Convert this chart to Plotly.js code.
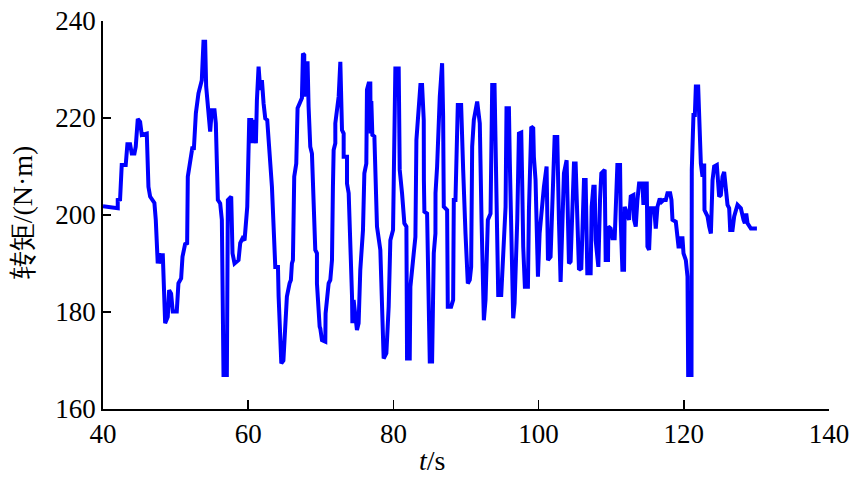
<!DOCTYPE html>
<html>
<head>
<meta charset="utf-8">
<script src="https://cdn.plot.ly/plotly-3.0.1.min.js"></script>
<style>html,body{margin:0;padding:0;background:#fff;}#chart{width:850px;height:479px;}</style>
</head>
<body>
<div id="chart"></div>
<script>
// time (s) and torque (N·m), in four segments
const timeA = [40.0, 42.03, 42.03, 42.35, 42.58, 43.13, 43.36, 43.73, 43.96, 44.33,
  44.51, 44.79, 45.11, 45.34, 46.03, 46.26, 46.49, 47.08, 47.27, 47.41,
  47.54, 47.73, 47.96, 48.23, 48.37, 48.56, 48.92, 49.11, 49.38, 49.61,
  50.16, 50.39, 50.76, 50.95, 51.31, 51.59, 51.68, 52.0, 52.33, 52.51,
  52.79, 53.15, 53.61, 53.84, 54.07, 54.21, 54.53, 54.76, 54.99, 55.36,
  55.54, 55.82, 56.14, 56.37, 56.6, 57.06, 57.2, 57.66, 57.84, 58.12,
  58.67, 58.9, 59.22, 59.5, 59.87, 60.14, 60.42, 60.51, 60.74, 61.06,
  61.2, 61.43, 61.66, 61.89, 62.12, 62.35, 62.62, 62.81, 63.27, 63.73,
  64.1, 64.19, 64.56, 64.85];
const torqueA = [201.8, 201.4, 203.1, 203.2, 210.3, 210.3, 214.6, 214.6, 212.7, 212.7,
  214.1, 219.8, 219.2, 216.5, 216.8, 205.8, 203.8, 202.5, 199.0, 192.1,
  190.0, 192.1, 190.0, 192.1, 183.8, 177.7, 179.0, 184.5, 183.8, 180.1,
  180.1, 185.9, 186.9, 191.4, 194.0, 194.2, 207.9, 210.6, 214.1, 213.4,
  221.0, 225.1, 227.8, 235.7, 235.7, 226.5, 219.6, 217.2, 221.6, 221.6,
  218.9, 203.1, 202.4, 199.0, 167.0, 167.0, 203.1, 203.8, 192.1, 190.0,
  190.7, 194.2, 195.2, 194.8, 201.7, 219.6, 219.6, 214.8, 219.6, 214.8,
  223.7, 230.6, 225.8, 227.8, 223.0, 219.9, 219.6, 216.2, 205.8, 189.3,
  189.3, 183.2, 169.4, 170.0];

const timeB = [65.1, 65.33, 65.7, 65.88, 66.02, 66.16, 66.34, 66.62, 66.71, 66.8,
  67.4, 67.54, 67.72, 67.72, 68.0, 68.18, 68.32, 68.55, 68.78, 69.01,
  69.24, 69.47, 69.47, 69.84, 69.93, 70.16, 70.62, 70.66, 70.85, 71.08,
  71.31, 71.54, 71.67, 71.77, 72.0, 72.0, 72.46, 72.69, 72.92, 73.15,
  73.15, 73.61, 73.61, 73.84, 74.3, 74.35, 74.52, 74.75, 74.98, 75.21,
  75.44, 75.81, 76.0, 76.27, 76.36, 76.59, 76.82, 76.87, 76.96, 77.1,
  77.38, 77.74, 78.2, 78.66, 79.03, 79.35, 79.58, 79.95, 80.27, 80.73,
  80.87, 81.19, 81.51, 81.79, 81.88, 82.25, 82.34, 82.8, 83.03, 83.17,
  83.72, 83.95, 84.18, 84.2, 84.27, 84.64, 84.87, 85.01, 85.33, 85.56,
  85.79, 85.8, 86.02, 86.39, 86.71, 86.85, 86.94, 87.4, 87.49, 87.95,
  88.23, 88.32, 88.55, 88.69, 88.87, 89.33, 89.47, 89.61, 89.93, 90.25,
  90.52, 90.71, 90.85, 91.08, 91.54, 91.9];
const torqueB = [176.3, 183.2, 185.9, 186.6, 190.0, 190.7, 207.9, 210.6, 216.2, 222.0,
  224.1, 233.3, 233.0, 224.4, 231.3, 231.3, 222.3, 214.1, 212.7, 200.3,
  192.8, 192.1, 185.9, 177.0, 176.6, 174.2, 173.9, 179.7, 182.5, 185.9,
  186.6, 190.7, 205.8, 213.4, 214.8, 218.9, 224.4, 231.6, 217.5, 216.8,
  212.0, 212.0, 206.5, 204.5, 183.2, 177.7, 182.5, 178.3, 176.3, 177.7,
  188.7, 196.9, 208.6, 210.6, 225.8, 227.1, 227.1, 216.8, 223.5, 216.5,
  216.2, 197.6, 192.8, 170.4, 171.5, 181.1, 194.8, 196.9, 230.2, 230.2,
  209.3, 204.5, 198.3, 197.6, 170.4, 170.4, 185.2, 192.1, 195.5, 215.5,
  226.8, 226.8, 219.6, 207.2, 200.7, 200.3, 185.2, 169.8, 169.8, 192.1,
  196.2, 204.5, 210.0, 224.4, 231.3, 220.3, 201.7, 201.0, 181.1, 181.1,
  182.5, 203.1, 203.1, 211.3, 222.7, 222.7, 211.3, 209.3, 196.2, 185.9,
  186.6, 189.3, 214.1, 219.6, 223.4, 218.9];

const timeC = [92.14, 92.46, 92.69, 92.83, 93.01, 93.38, 93.47, 93.61, 93.93, 94.07,
  94.3, 94.44, 94.85, 95.13, 95.45, 95.58, 95.91, 96.04, 96.23, 96.37,
  96.5, 96.69, 97.06, 97.29, 97.61, 97.75, 97.88, 98.11, 98.53, 98.67,
  98.99, 99.26, 99.35, 99.58, 99.81, 99.91, 100.14, 100.37, 100.73, 101.1,
  101.29, 101.65, 101.75, 102.02, 102.21, 102.57, 102.67, 102.8, 103.03, 103.26,
  103.49, 103.86, 104.04, 104.18, 104.41, 104.64, 104.87, 105.1, 105.33, 105.56,
  105.88, 106.02, 106.25, 106.48, 106.62, 106.71, 107.17, 107.31, 107.54, 107.72,
  107.86, 108.09, 108.23, 108.46, 108.64, 109.1, 109.24, 109.56, 109.61, 109.93,
  110.16, 110.48, 110.62, 110.85, 111.22, 111.31, 111.54, 111.77, 111.86, 112.23,
  112.46, 112.69, 113.06, 113.15, 113.38, 113.61, 113.84, 114.3, 114.44, 114.62,
  114.9, 114.99, 115.22, 115.45, 115.91, 116.14, 116.37, 116.69];
const torqueC = [199.0, 178.3, 182.5, 193.5, 199.0, 200.3, 214.1, 226.8, 226.8, 210.6,
  187.3, 183.5, 183.5, 193.5, 201.7, 222.0, 222.0, 210.6, 199.7, 187.3,
  178.7, 181.8, 199.0, 216.8, 217.0, 205.8, 193.5, 185.2, 185.2, 201.0,
  218.2, 217.9, 212.0, 207.2, 190.7, 187.3, 196.2, 200.3, 205.8, 210.0,
  190.7, 191.4, 196.2, 205.8, 216.1, 216.1, 205.8, 199.0, 186.2, 197.6,
  208.6, 211.3, 199.0, 190.0, 190.4, 204.5, 210.6, 210.6, 195.5, 188.7,
  189.0, 196.2, 207.2, 207.2, 197.6, 188.0, 188.0, 201.7, 205.8, 205.8,
  194.8, 191.4, 189.3, 203.1, 208.6, 209.3, 190.7, 190.7, 197.6, 197.2,
  195.2, 195.2, 202.4, 210.3, 210.3, 199.0, 188.7, 188.7, 201.7, 200.3,
  199.0, 203.8, 204.1, 199.0, 197.6, 203.1, 206.5, 206.5, 202.1, 206.5,
  206.5, 193.5, 192.8, 201.4, 201.4, 197.2, 201.7, 203.4];

const timeD = [116.92, 117.2, 117.52, 117.75, 118.12, 118.3, 118.44, 118.9, 119.13, 119.27,
  119.5, 119.59, 119.82, 119.96, 120.28, 120.51, 120.6, 121.06, 121.1, 121.2,
  121.33, 121.52, 121.66, 121.98, 122.16, 122.35, 122.58, 122.81, 122.85, 123.27,
  123.5, 123.73, 123.96, 124.18, 124.55, 124.74, 124.87, 125.1, 125.33, 125.56,
  125.79, 126.02, 126.25, 126.39, 126.71, 126.94, 127.4, 127.86, 128.23, 128.41,
  128.6, 128.78, 129.24, 130.07];
const torqueD = [202.7, 203.1, 203.1, 204.5, 204.5, 203.1, 199.0, 198.6, 195.5, 193.5,
  193.5, 195.2, 195.2, 192.1, 190.7, 187.3, 167.0, 167.0, 209.3, 212.7,
  220.6, 220.6, 226.5, 226.5, 216.1, 210.6, 207.9, 210.6, 201.0, 199.7,
  197.6, 196.2, 207.2, 210.0, 210.3, 205.8, 203.8, 204.1, 207.9, 208.9,
  204.5, 202.1, 201.4, 196.9, 196.9, 199.7, 202.1, 201.4, 199.0, 198.3,
  200.3, 198.3, 197.2, 197.2];

const xTicks = [40, 60, 80, 100, 120, 140];
const yTicks = [160, 180, 200, 220, 240];
const xTitle = '<i>t</i>/s';
const yTitle = '转矩/(N·m)';

const time = timeA.concat(timeB, timeC, timeD);
const torque = torqueA.concat(torqueB, torqueC, torqueD);

const serif = 'Liberation Serif';

const trace = {
  x: time, y: torque, type: 'scatter', mode: 'lines',
  line: {color: '#0000FF', width: 4, shape: 'linear'},
  hoverinfo: 'skip'
};

const axisCommon = {
  showgrid: false, zeroline: false, showline: true,
  linecolor: '#000', linewidth: 1.8,
  ticks: 'inside', tickcolor: '#000', tickwidth: 1.8,
  tickfont: {family: serif, size: 27, color: '#000'},
  mirror: false, fixedrange: true
};

const layout = {
  width: 850, height: 479,
  margin: {l: 103, r: 21, t: 21, b: 70, pad: 0},
  paper_bgcolor: '#fff', plot_bgcolor: '#fff',
  showlegend: false,
  font: {family: serif, color: '#000'},
  xaxis: Object.assign({}, axisCommon, {
    range: [40, 140], tickmode: 'array', tickvals: xTicks, ticktext: xTicks.map(String),
    ticklen: 9
  }),
  yaxis: Object.assign({}, axisCommon, {
    range: [160, 240], tickmode: 'array', tickvals: yTicks, ticktext: yTicks.map(String),
    ticklen: 8
  }),
  annotations: [
    {text: yTitle, xref: 'paper', yref: 'paper', x: -0.111, y: 0.508,
     xanchor: 'center', yanchor: 'middle', textangle: -90, showarrow: false,
     font: {family: serif, size: 28, color: '#000'}},
    {text: xTitle, xref: 'paper', yref: 'paper', x: 0.453, y: -0.134,
     xanchor: 'center', yanchor: 'middle', showarrow: false,
     font: {family: serif, size: 28, color: '#000'}}
  ]
};

Plotly.newPlot('chart', [trace], layout, {displayModeBar: false, staticPlot: true});
</script>
</body>
</html>
